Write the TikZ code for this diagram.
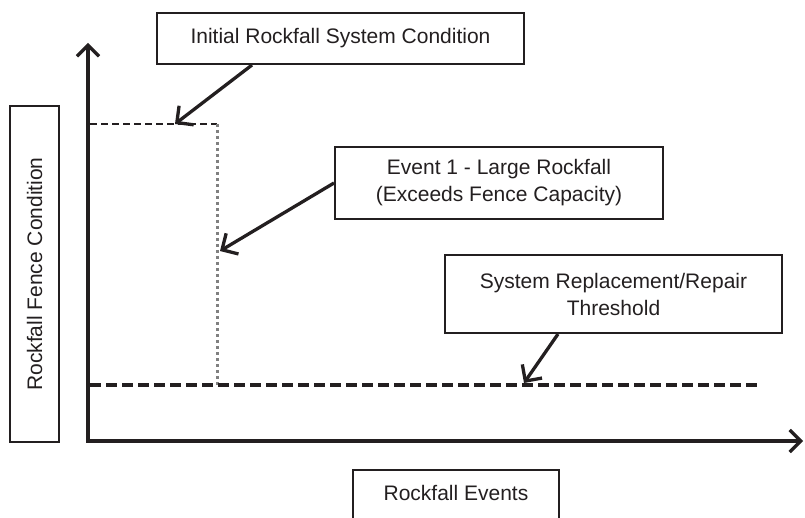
\documentclass[tikz,border=0pt]{standalone}
\usepackage{fontspec}
\setmainfont{Liberation Sans}
\usetikzlibrary{arrows.meta}
\definecolor{ink}{HTML}{231F20}
\definecolor{dotgray}{HTML}{808080}
\tikzset{
    labelbox/.style={draw=ink, line width=2pt, text=ink, align=center, inner sep=0pt},
    callout/.style={draw=ink, line width=3.3pt, -{Straight Barb[length=12pt,width=24pt,line width=3.3pt]}},
}
\begin{document}
\begin{tikzpicture}[x=1pt, y=-1pt, font=\fontsize{21}{27}\selectfont, line join=miter]
            \useasboundingbox (0,0) rectangle (805,518);
            \draw[line width=3.3pt, ink, {Straight Barb[length=11pt,width=22pt,line width=3.3pt]}-{Straight Barb[length=11pt,width=22pt,line width=3.3pt]}] (88,43)--(88,441)--(803,441);
            \draw[ink, line width=2.5pt, dash pattern=on 7pt off 4pt] (90,124)--(217,124);
            \draw[dotgray, line width=3pt, dash pattern=on 3pt off 3pt] (217,124)--(217,385);
            \draw[ink, line width=3.2pt, dash pattern=on 11pt off 5pt] (90,385)--(758,385);
            \node[labelbox, minimum width=367, minimum height=51] (init) at (340.5,38.5) {Initial Rockfall System Condition};
            \node[labelbox, minimum width=328, minimum height=72] (event) at (499,183) {Event 1 - Large Rockfall\\(Exceeds Fence Capacity)};
            \node[labelbox, minimum width=337, minimum height=78] (thresh) at (613.5,294) {System Replacement/Repair\\Threshold};
            \node[labelbox, rotate=90, minimum width=336, minimum height=49] (yname) at (34.5,274) {Rockfall Fence Condition};
            \node[labelbox, minimum width=206, minimum height=60, text depth=14pt] (xname) at (456,500) {Rockfall Events};
            \coordinate (topmark) at (175,124);
            \coordinate (dropmark) at (220,251);
            \coordinate (threshmark) at (524,383);
            \draw[callout] ([xshift=96pt]init.south west)--(topmark);
            \draw[callout] (event.west)--(dropmark);
            \draw[callout] ([xshift=114pt]thresh.south west)--(threshmark);
    \end{tikzpicture}
\end{document}
